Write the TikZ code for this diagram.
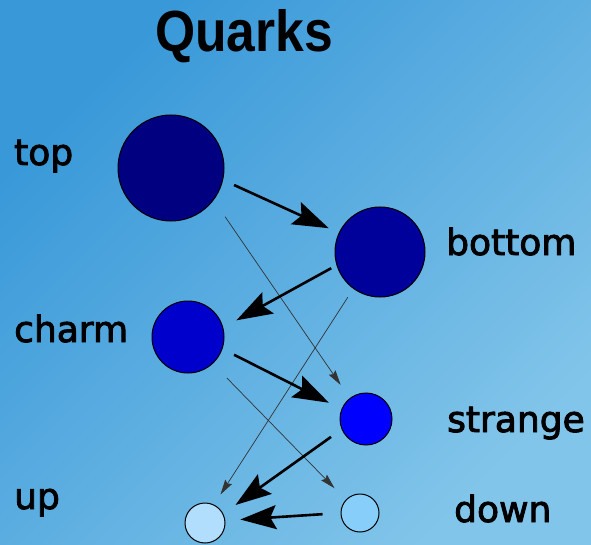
\documentclass[tikz,border=0pt]{standalone}
\usepackage{fontspec}
\setmainfont{DejaVu Sans}
\newfontfamily\labfont{DejaVu Sans}[FakeBold=2.5]
\newfontfamily\titlefont{Liberation Sans}
\usepackage{tikz}
\usetikzlibrary{arrows.meta,positioning}
\definecolor{bgdark}{HTML}{3898D8}
\definecolor{bglight}{HTML}{82C5EA}
\definecolor{qtop}{HTML}{000080}
\definecolor{qbottom}{HTML}{00009A}
\definecolor{qcharm}{HTML}{0000CC}
\definecolor{qstrange}{HTML}{0000FF}
\definecolor{qup}{HTML}{B0DEFC}
\definecolor{qdown}{HTML}{87CEFA}

\begin{document}
\begin{tikzpicture}[x=1pt,y=-1pt,
  q/.style={circle,draw,line width=1pt,inner sep=0pt},
  lab/.style={anchor=base west,inner sep=0pt,font=\labfont\fontsize{36}{40}\selectfont},
  heavy/.style={-{Stealth[length=36pt,width=24pt,inset=6pt]},line width=2.6pt},
  light/.style={-{Stealth[length=15pt,width=8pt,inset=2pt]},line width=0.7pt,black!80}]
  \shade[top color=bgdark,bottom color=bglight,shading angle=45](0,0) rectangle (591,545);
  \node[anchor=base,inner sep=0pt,xscale=0.89,font=\titlefont\bfseries\fontsize{58}{60}\selectfont](title) at (244,51.5){Quarks};
  % quarks
  \node[q,fill=qtop,minimum size=106pt](t) at (171,168){};
  \node[q,fill=qbottom,minimum size=90pt](b) at (380,252){};
  \node[q,fill=qcharm,minimum size=72pt](c) at (188,337){};
  \node[q,fill=qstrange,minimum size=52pt](s) at (366,419){};
  \node[q,fill=qup,minimum size=40pt](u) at (205,523){};
  \node[q,fill=qdown,minimum size=38pt](d) at (360,513){};
  % names
  \node[lab](tl) at (14,165){top};
  \node[lab](bl) at (446,255){bottom};
  \node[lab](cl) at (14,342){charm};
  \node[lab](sl) at (447,432){strange};
  \node[lab](ul) at (14,509){up};
  \node[lab](dl) at (454,522){down};
  % decays
  \draw[light,shorten <=20pt,shorten >=16pt](t.-37)--(s.128);
  \draw[light,shorten <=10pt,shorten >=12pt](b.-126)--(u.64);
  \draw[light,shorten <=20pt,shorten >=16pt](c.-47)--(d.137);
  \draw[heavy,shorten <=12pt,shorten >=11pt](t.-13)--(b.155);
  \draw[heavy,shorten <=6pt,shorten >=15pt](b.197)--(c.15);
  \draw[heavy,shorten <=13pt,shorten >=14pt](c.-19)--(s.158);
  \draw[heavy,shorten <=13pt,shorten >=15pt](s.203)--(u.27);
  \draw[heavy,shorten <=18pt,shorten >=15pt](d.180)--(u.7);
\end{tikzpicture}
\end{document}
